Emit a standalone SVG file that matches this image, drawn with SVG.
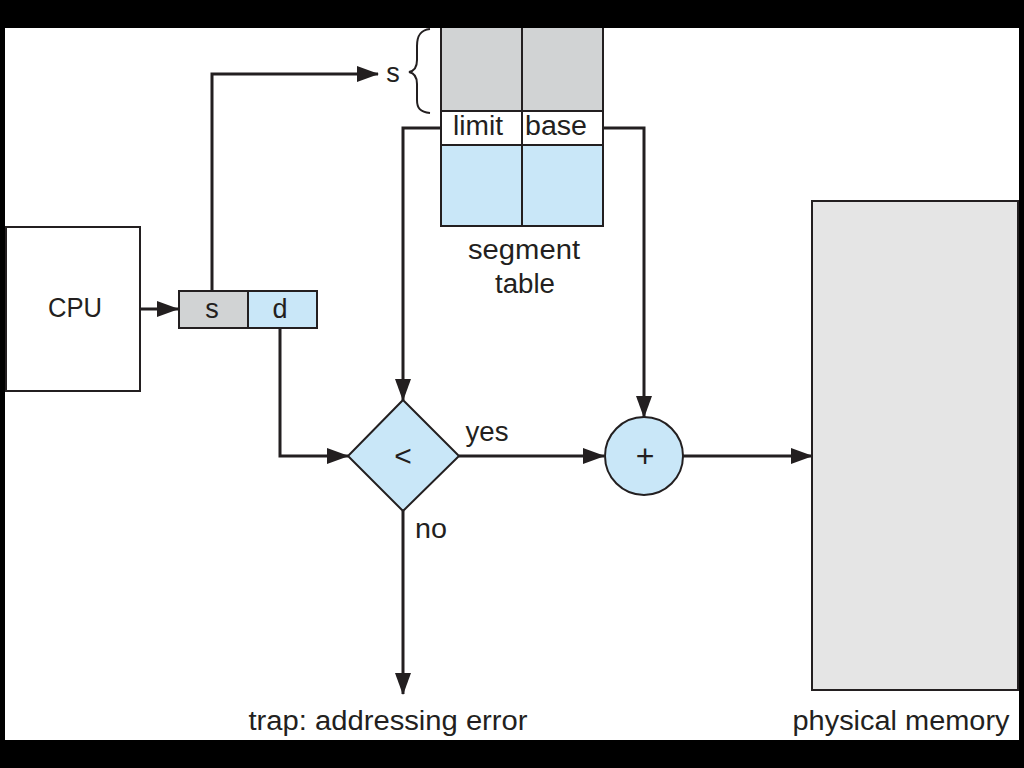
<svg xmlns="http://www.w3.org/2000/svg" width="1024" height="768" viewBox="0 0 1024 768">
<style>
.t{font-family:"Liberation Sans",Arial,sans-serif;font-size:27px;fill:#231f20}
.m{text-anchor:middle}
.box{stroke:#231f20;stroke-width:2}
.ln{fill:none;stroke:#231f20;stroke-width:3}
</style>
<defs>
<marker id="ah" markerUnits="userSpaceOnUse" markerWidth="22" markerHeight="16" refX="21" refY="8" orient="auto">
<path d="M0,0 L22,8 L0,16 z" fill="#231f20"/>
</marker>
</defs>
<rect x="0" y="0" width="1024" height="768" fill="#000"/>
<rect x="5" y="28" width="1014" height="712" fill="#fff"/>

<g id="cpu">
<rect class="box" x="6" y="227" width="134" height="164" fill="#fff"/>
<text class="t m" x="75" y="317" textLength="54" lengthAdjust="spacingAndGlyphs">CPU</text>
</g>

<g id="address">
<rect class="box" x="179" y="291" width="69" height="37" fill="#d1d3d4"/>
<rect class="box" x="248" y="291" width="69" height="37" fill="#c9e7f8"/>
<text class="t m" x="212" y="318">s</text>
<text class="t m" x="280" y="318">d</text>
</g>

<g id="segment-table">
<rect class="box" x="441" y="20" width="81" height="91" fill="#d1d3d4"/>
<rect class="box" x="522" y="20" width="81" height="91" fill="#d1d3d4"/>
<rect class="box" x="441" y="111" width="81" height="34" fill="#fff"/>
<rect class="box" x="522" y="111" width="81" height="34" fill="#fff"/>
<rect class="box" x="441" y="145" width="81" height="81" fill="#c9e7f8"/>
<rect class="box" x="522" y="145" width="81" height="81" fill="#c9e7f8"/>
<text class="t m" x="478" y="135" textLength="50" lengthAdjust="spacingAndGlyphs">limit</text>
<text class="t m" x="556" y="135" textLength="62" lengthAdjust="spacingAndGlyphs">base</text>
<text class="t m" x="524" y="259" textLength="112" lengthAdjust="spacingAndGlyphs">segment</text>
<text class="t m" x="525" y="293" textLength="60" lengthAdjust="spacingAndGlyphs">table</text>
<path class="box" fill="none" d="M430,29 C420,30 417,36 417,46 L417,60 C417,67 414,71 409,72 C414,73 417,77 417,84 L417,100 C417,108 420,112 430,113"/>
<text class="t m" x="393" y="82">s</text>
</g>

<g id="compare">
<polygon class="box" points="403,400 459,456 403,511 348,456" fill="#c9e7f8"/>
<text class="t m" x="403" y="466" style="font-size:30px">&lt;</text>
</g>

<g id="adder">
<circle class="box" cx="644" cy="456" r="39" fill="#c9e7f8"/>
<text class="t m" x="645" y="467" style="font-size:32px">+</text>
</g>

<g id="memory">
<rect class="box" x="812" y="201" width="206" height="489" fill="#e5e5e5"/>
<text class="t m" x="901" y="730" textLength="217" lengthAdjust="spacingAndGlyphs">physical memory</text>
</g>

<g id="trap">
<text class="t m" x="388" y="730" textLength="279" lengthAdjust="spacingAndGlyphs">trap: addressing error</text>
</g>

<g id="connectors">
<line class="ln" x1="140" y1="309" x2="178" y2="309" marker-end="url(#ah)"/>
<polyline class="ln" points="212,291 212,74 378,74" marker-end="url(#ah)"/>
<polyline class="ln" points="280,328 280,456 348,456" marker-end="url(#ah)"/>
<polyline class="ln" points="441,128 403,128 403,400" marker-end="url(#ah)"/>
<polyline class="ln" points="603,128 644,128 644,417" marker-end="url(#ah)"/>
<line class="ln" x1="459" y1="456" x2="604" y2="456" marker-end="url(#ah)"/>
<line class="ln" x1="683" y1="456" x2="812" y2="456" marker-end="url(#ah)"/>
<line class="ln" x1="403" y1="511" x2="403" y2="694" marker-end="url(#ah)"/>
<text class="t m" x="487" y="441" textLength="43" lengthAdjust="spacingAndGlyphs">yes</text>
<text class="t m" x="431" y="538" textLength="32" lengthAdjust="spacingAndGlyphs">no</text>
</g>
<rect x="0" y="0" width="1024" height="28" fill="#000"/>
</svg>
